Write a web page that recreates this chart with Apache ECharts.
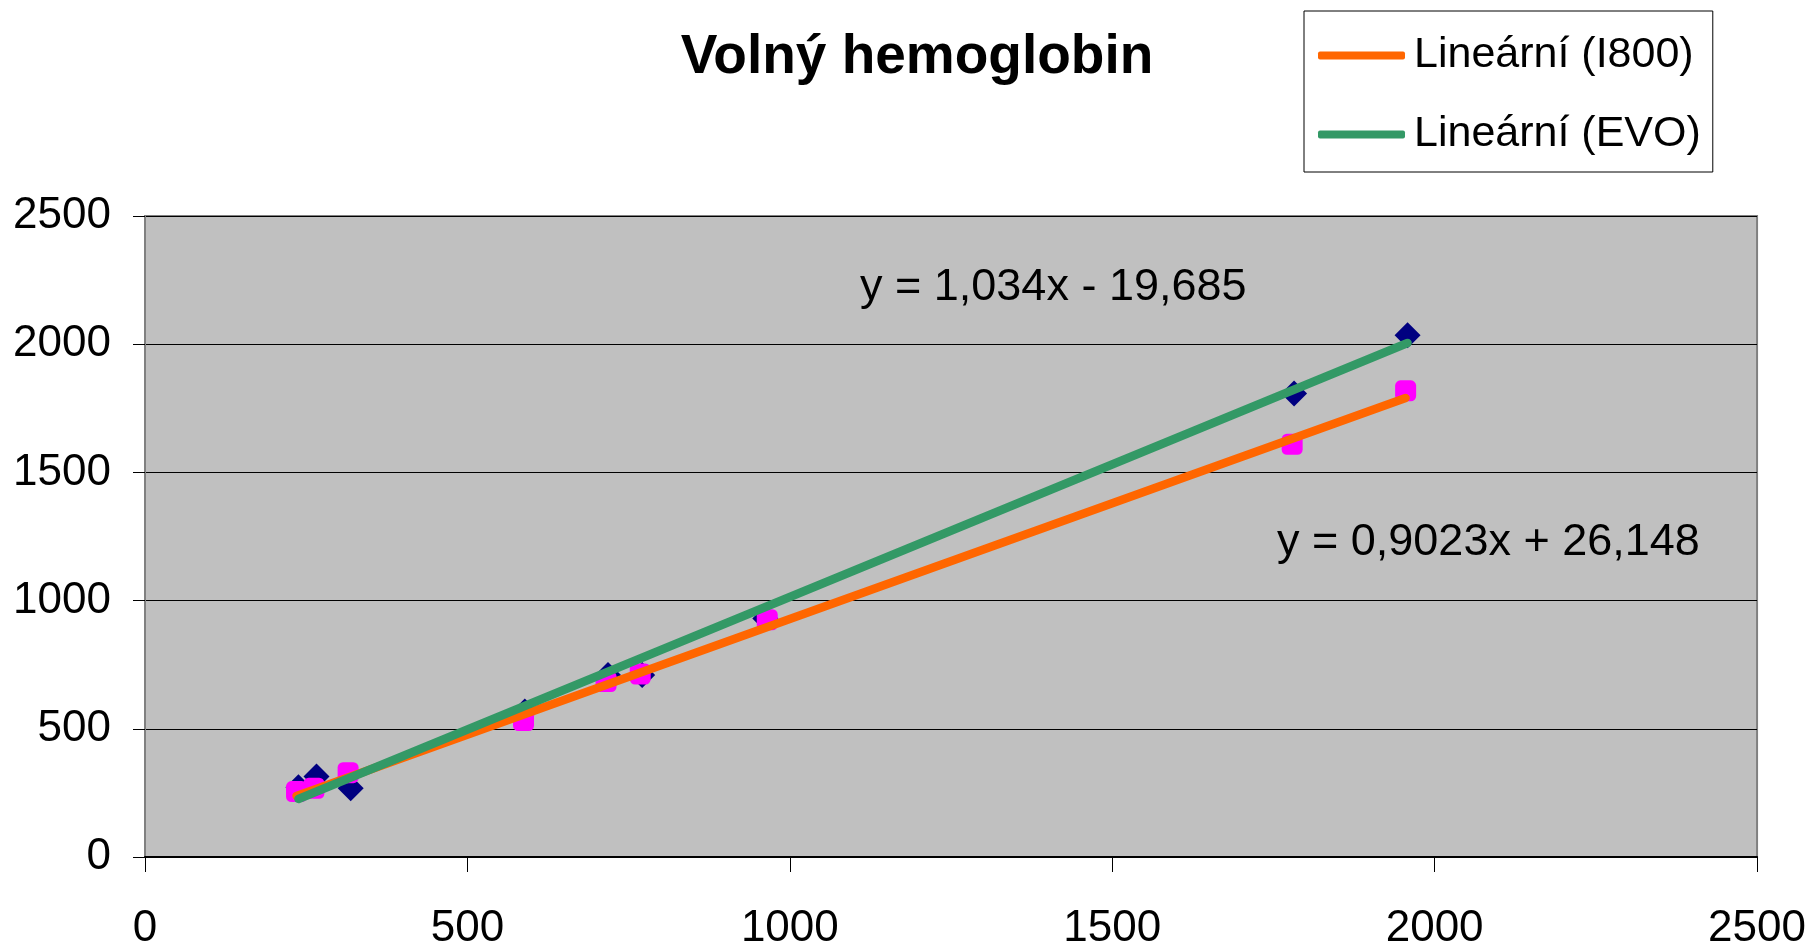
<!DOCTYPE html>
<html>
<head>
<meta charset="utf-8">
<script src="https://cdn.jsdelivr.net/npm/echarts@6/dist/echarts.min.js"></script>
<style>
  html, body { margin: 0; padding: 0; background: #fff; }
  #main { width: 1809px; height: 951px; }
</style>
</head>
<body>
<div id="main"></div>
<script>
// body nameru body z obrázku
var xI800 = [235, 262, 315, 587, 715, 768, 965, 1779, 1955];
var yI800 = [255, 268, 329, 532, 684, 714, 925, 1610, 1818];
var xEVO = [238, 266, 319, 589, 718, 771, 962, 1782, 1958];
var yEVO = [272, 314, 268, 567, 710, 710, 930, 1808, 2035];

// rovnice trendu (z grafu)
var trendNames = ['Lineární (I800)', 'Lineární (EVO)'];
var trendSlope = [0.9023, 1.034];
var trendIntercept = [26.148, -19.685];
var trendLabels = ['y = 0,9023x + 26,148', 'y = 1,034x - 19,685'];

var axisTicks = [0, 500, 1000, 1500, 2000, 2500];

function pairs(xs, ys) {
  var out = [];
  for (var i = 0; i < xs.length; i++) out.push([xs[i], ys[i]]);
  return out;
}
function trend(xs, k) {
  var lo = Math.min.apply(null, xs), hi = Math.max.apply(null, xs);
  return [[lo, trendSlope[k] * lo + trendIntercept[k]], [hi, trendSlope[k] * hi + trendIntercept[k]]];
}

var font = '"Liberation Sans", Arial, sans-serif';
var chart = echarts.init(document.getElementById('main'));

var option = {
  animation: false,
  textStyle: { fontFamily: font },
  grid: {
    left: 145, right: 49, top: 216, bottom: 92,
    show: true, backgroundColor: '#C0C0C0', borderColor: '#808080', borderWidth: 2
  },
  legend: {
    data: trendNames,
    orient: 'vertical',
    left: 1304, top: 11,
    backgroundColor: '#fff',
    borderColor: '#000', borderWidth: 1,
    padding: [23, 12, 16, 14],
    itemGap: 36,
    icon: 'roundRect',
    itemWidth: 87, itemHeight: 8,
    textStyle: { fontSize: 43, color: '#000', fontFamily: font, padding: [0, 0, 0, 4] }
  },
  xAxis: {
    type: 'value', min: axisTicks[0], max: axisTicks[axisTicks.length - 1], interval: 500,
    axisLine: { onZero: false, lineStyle: { color: '#000', width: 2 } },
    axisTick: { show: true, length: 15, lineStyle: { color: '#000' } },
    axisLabel: { fontSize: 44, color: '#000', margin: 50, fontFamily: font,
                 formatter: function (v) { return String(v); } },
    splitLine: { show: false }
  },
  yAxis: {
    type: 'value', min: axisTicks[0], max: axisTicks[axisTicks.length - 1], interval: 500,
    axisLine: { show: true, lineStyle: { color: '#808080', width: 2 } },
    axisTick: { show: true, length: 12, lineStyle: { color: '#000' } },
    axisLabel: { fontSize: 44, color: '#000', margin: 34, fontFamily: font,
                 formatter: function (v) { return String(v); } },
    splitLine: { show: true, lineStyle: { color: '#000', width: 1 } }
  },
  series: [
    {
      name: 'EVO', type: 'scatter', symbol: 'diamond', symbolSize: 26,
      itemStyle: { color: '#000080', opacity: 1 }, data: pairs(xEVO, yEVO), z: 2
    },
    {
      name: 'I800', type: 'scatter', symbol: 'roundRect', symbolSize: 21,
      itemStyle: { color: '#FF00FF', opacity: 1 }, data: pairs(xI800, yI800), z: 3
    },
    {
      name: trendNames[0], type: 'line', symbol: 'none', data: trend(xI800, 0),
      lineStyle: { color: '#FF6600', width: 8.5, cap: 'round' }, itemStyle: { color: '#FF6600' }, z: 4
    },
    {
      name: trendNames[1], type: 'line', symbol: 'none', data: trend(xEVO, 1),
      lineStyle: { color: '#339966', width: 8.5, cap: 'round' }, itemStyle: { color: '#339966' }, z: 5
    }
  ],
  graphic: [
    {
      type: 'text', x: 917, y: 58,
      style: { text: 'Volný hemoglobin', fontSize: 55, fontWeight: 'bold', fontFamily: font,
               fill: '#000', align: 'center', verticalAlign: 'middle' }
    },
    {
      type: 'text', x: 860, y: 288,
      style: { text: trendLabels[1], fontSize: 45, fontFamily: font, fill: '#000',
               align: 'left', verticalAlign: 'middle' }
    },
    {
      type: 'text', x: 1277, y: 543,
      style: { text: trendLabels[0], fontSize: 45, fontFamily: font, fill: '#000',
               align: 'left', verticalAlign: 'middle' }
    }
  ]
};
chart.setOption(option);
</script>
</body>
</html>
